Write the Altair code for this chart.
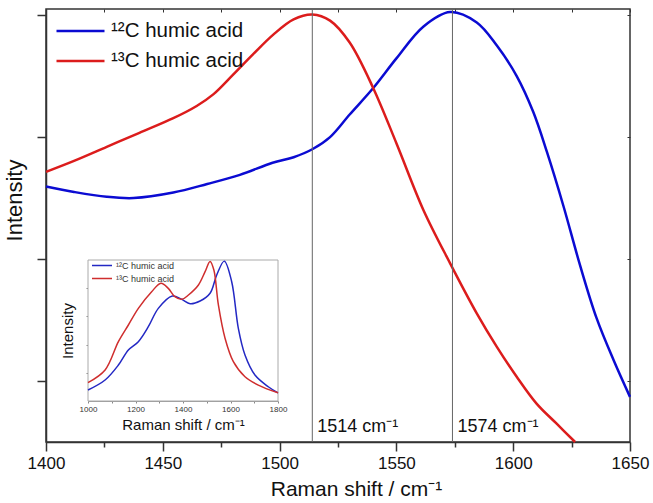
import altair as alt
import pandas as pd

FONT = "Liberation Sans"

# ---------------- data: main panel ----------------
series_names = ["¹²C humic acid", "¹³C humic acid"]
main_colors = ["#0b0bd2", "#dc1c1c"]
inset_colors = ["#2328c4", "#cf2e2e"]

blue_x = [1400, 1412, 1426, 1437.5, 1454.5, 1469, 1483, 1497, 1506, 1514, 1521.6, 1530,
          1540, 1550, 1561.5, 1573, 1584.4, 1593, 1601.5, 1608.6, 1614.4, 1621.5,
          1628.6, 1635.7, 1643, 1650]
blue_y = [0.519, 0.510, 0.502, 0.500, 0.509, 0.523, 0.538, 0.558, 0.567, 0.580, 0.600, 0.637,
          0.680, 0.729, 0.781, 0.805, 0.788, 0.750, 0.700, 0.641, 0.576, 0.487,
          0.390, 0.303, 0.234, 0.174]
red_x = [1400, 1412, 1426, 1440, 1454.5, 1464.5, 1471.6, 1480, 1488.7, 1497.3, 1506,
         1514, 1521.6, 1530, 1540, 1550, 1561.5, 1573, 1584.4, 1593, 1601.5, 1610,
         1618.6, 1626.5]
red_y = [0.543, 0.561, 0.584, 0.607, 0.631, 0.651, 0.670, 0.702, 0.736, 0.768, 0.793,
         0.801, 0.791, 0.755, 0.681, 0.590, 0.481, 0.393, 0.311, 0.256, 0.207, 0.163,
         0.130, 0.100]

peak_x = [1514, 1574]
peak_labels = ["1514 cm⁻¹", "1574 cm⁻¹"]
peak_label_y = [0.116, 0.116]

x_major = [1400, 1450, 1500, 1550, 1600, 1650]
x_minor = [1425, 1475, 1525, 1575, 1625]
x_all = [1400, 1425, 1450, 1475, 1500, 1525, 1550, 1575, 1600, 1625, 1650]
y_ticks = [0.2, 0.4, 0.6, 0.8]

# ---------------- data: inset ----------------
blue_ix = [1000, 1072, 1128, 1170, 1212, 1254, 1296, 1355, 1395, 1430, 1472, 1514,
           1542, 1574, 1605, 1633, 1661, 1703, 1759, 1800]
blue_iy = [0.078, 0.149, 0.255, 0.362, 0.421, 0.527, 0.657, 0.745, 0.721, 0.690, 0.709,
           0.764, 0.894, 0.992, 0.846, 0.515, 0.326, 0.184, 0.101, 0.058]
red_ix = [1000, 1072, 1128, 1170, 1212, 1268, 1307, 1338, 1366, 1395, 1423, 1465, 1493,
          1514, 1530, 1549, 1577, 1612, 1661, 1717, 1800]
red_iy = [0.130, 0.220, 0.421, 0.539, 0.657, 0.775, 0.835, 0.799, 0.740, 0.721, 0.752,
          0.823, 0.917, 0.990, 0.929, 0.681, 0.445, 0.279, 0.172, 0.113, 0.058]
inset_x_ticks = [1000, 1100, 1200, 1300, 1400, 1500, 1600, 1700, 1800]
inset_y_ticks = [0.2, 0.4, 0.6, 0.8]
inset_frame = {"x0": [1000], "x1": [1800], "y0": [0.0], "y1": [1.0]}

# ---------------- tables ----------------
main_df = pd.DataFrame({
    "x": blue_x + red_x,
    "v": blue_y + red_y,
    "series": [series_names[0]] * len(blue_x) + [series_names[1]] * len(red_x),
})
inset_df = pd.DataFrame({
    "x": blue_ix + red_ix,
    "v": blue_iy + red_iy,
    "series": [series_names[0]] * len(blue_ix) + [series_names[1]] * len(red_ix),
})
peaks_df = pd.DataFrame({"x": peak_x, "label": peak_labels, "ly": peak_label_y})
frame_df = pd.DataFrame(inset_frame)

W, H = 584, 433
AX = "#333333"

xs_main = alt.Scale(domain=[1400, 1650], nice=False, zero=False)
ys_main = alt.Scale(domain=[0.1, 0.81], nice=False, zero=False)
xs_in = alt.Scale(domain=[1000, 1800], range=[42, 232], nice=False, zero=False)
ys_in = alt.Scale(domain=[0, 1], range=[392, 251], nice=False, zero=False)

main_lines = alt.Chart(main_df).mark_line(strokeWidth=2.5, interpolate="catmull-rom").encode(
    x=alt.X("x:Q", scale=xs_main, axis=alt.Axis(
        orient="bottom", values=x_major, format="d", tickSize=9, tickWidth=1.5,
        domainWidth=1.5, domainColor=AX, tickColor=AX, labelFontSize=17,
        labelColor="#111", labelPadding=4, labelFlush=False, labelOverlap=False,
        grid=False, title="Raman shift / cm⁻¹", titleFontSize=21,
        titleFontWeight="normal", titleColor="#111", titlePadding=7, titleX=310)),
    y=alt.Y("v:Q", scale=ys_main, axis=alt.Axis(
        orient="left", values=y_ticks, labels=False, tickSize=9, tickWidth=1.5,
        domainWidth=1.5, domainColor=AX, tickColor=AX, grid=False,
        title="Intensity", titleFontSize=22, titleFontWeight="normal",
        titleColor="#111", titlePadding=10, titleY=191)),
    color=alt.Color("series:N", scale=alt.Scale(domain=series_names, range=main_colors),
                    legend=alt.Legend(orient="none", legendX=9, legendY=12, title=None,
                                      symbolType="stroke", symbolSize=2304,
                                      symbolStrokeWidth=2.5, labelFontSize=20.5,
                                      labelColor="#111", labelOffset=5, rowPadding=9,
                                      clipHeight=20, padding=0, labelLimit=400)),
)

peak_rules = alt.Chart(peaks_df).mark_rule(color="#666666", strokeWidth=1).encode(
    x=alt.X("x:Q", scale=xs_main, axis=None))

peak_text = alt.Chart(peaks_df).mark_text(
    align="left", baseline="alphabetic", dx=5, fontSize=18, color="#111").encode(
    x=alt.X("x:Q", scale=xs_main, axis=None),
    y=alt.Y("ly:Q", scale=ys_main, axis=None),
    text="label:N")

minor_bottom = alt.Chart(peaks_df).mark_point(opacity=0).encode(
    x=alt.X("x:Q", scale=xs_main, axis=alt.Axis(
        orient="bottom", values=x_minor, labels=False, domain=False, tickSize=5,
        tickWidth=1.5, tickColor=AX, grid=False, title=None)))

top_ticks = alt.Chart(peaks_df).mark_point(opacity=0).encode(
    x=alt.X("x:Q", scale=xs_main, axis=alt.Axis(
        orient="bottom", offset=-H, values=x_all, labels=False, domain=False,
        tickSize=3, tickWidth=1, tickColor=AX, grid=False, title=None)))

right_ticks = alt.Chart(peaks_df).mark_point(opacity=0).encode(
    y=alt.Y("ly:Q", scale=ys_main, axis=alt.Axis(
        orient="left", offset=-W, values=y_ticks, labels=False, domain=False,
        tickSize=3, tickWidth=1, tickColor=AX, grid=False, title=None)))

inset_bg = alt.Chart(frame_df).mark_rect(fill="white", stroke="#aaaaaa", strokeWidth=1).encode(
    x=alt.X("x0:Q", scale=xs_in, axis=None), x2="x1:Q",
    y=alt.Y("y0:Q", scale=ys_in, axis=None), y2="y1:Q")

inset_lines = alt.Chart(inset_df).mark_line(strokeWidth=1.5, interpolate="catmull-rom").encode(
    x=alt.X("x:Q", scale=xs_in, axis=alt.Axis(
        orient="bottom", offset=-(H - 392), values=inset_x_ticks, format="d",
        labelExpr="datum.value % 200 == 0 ? datum.label : ''",
        tickSize=2, tickColor="#888", domainColor="#999", labelFontSize=8,
        labelColor="#333", labelPadding=2, labelFlush=False, labelOverlap=False,
        grid=False, title="Raman shift / cm⁻¹", titleFontSize=15,
        titleFontWeight="normal", titleColor="#111", titlePadding=4)),
    y=alt.Y("v:Q", scale=ys_in, axis=alt.Axis(
        orient="left", offset=-42, values=inset_y_ticks, labels=False, tickSize=2,
        tickColor="#888", domainColor="#999", grid=False, title="Intensity",
        titleFontSize=15, titleFontWeight="normal", titleColor="#111", titlePadding=10)),
    color=alt.Color("series:N", scale=alt.Scale(domain=series_names, range=inset_colors),
                    legend=alt.Legend(orient="none", legendX=45, legendY=252, title=None,
                                      symbolType="stroke", symbolSize=400,
                                      symbolStrokeWidth=1.5, labelFontSize=9,
                                      labelColor="#333", labelOffset=3, rowPadding=3,
                                      clipHeight=9, padding=0, labelLimit=200)),
)

chart = alt.layer(
    main_lines, peak_rules, peak_text, minor_bottom, top_ticks, right_ticks,
    inset_bg, inset_lines,
).resolve_scale(
    x="independent", y="independent", color="independent"
).properties(
    width=W, height=H,
    autosize=alt.AutoSizeParams(type="none"),
    padding={"left": 46, "top": 9, "right": 23, "bottom": 61},
).configure(font=FONT).configure_view(stroke=AX, strokeWidth=1.5)

chart.save("out.html", embed_options={"renderer": "svg", "actions": False})
